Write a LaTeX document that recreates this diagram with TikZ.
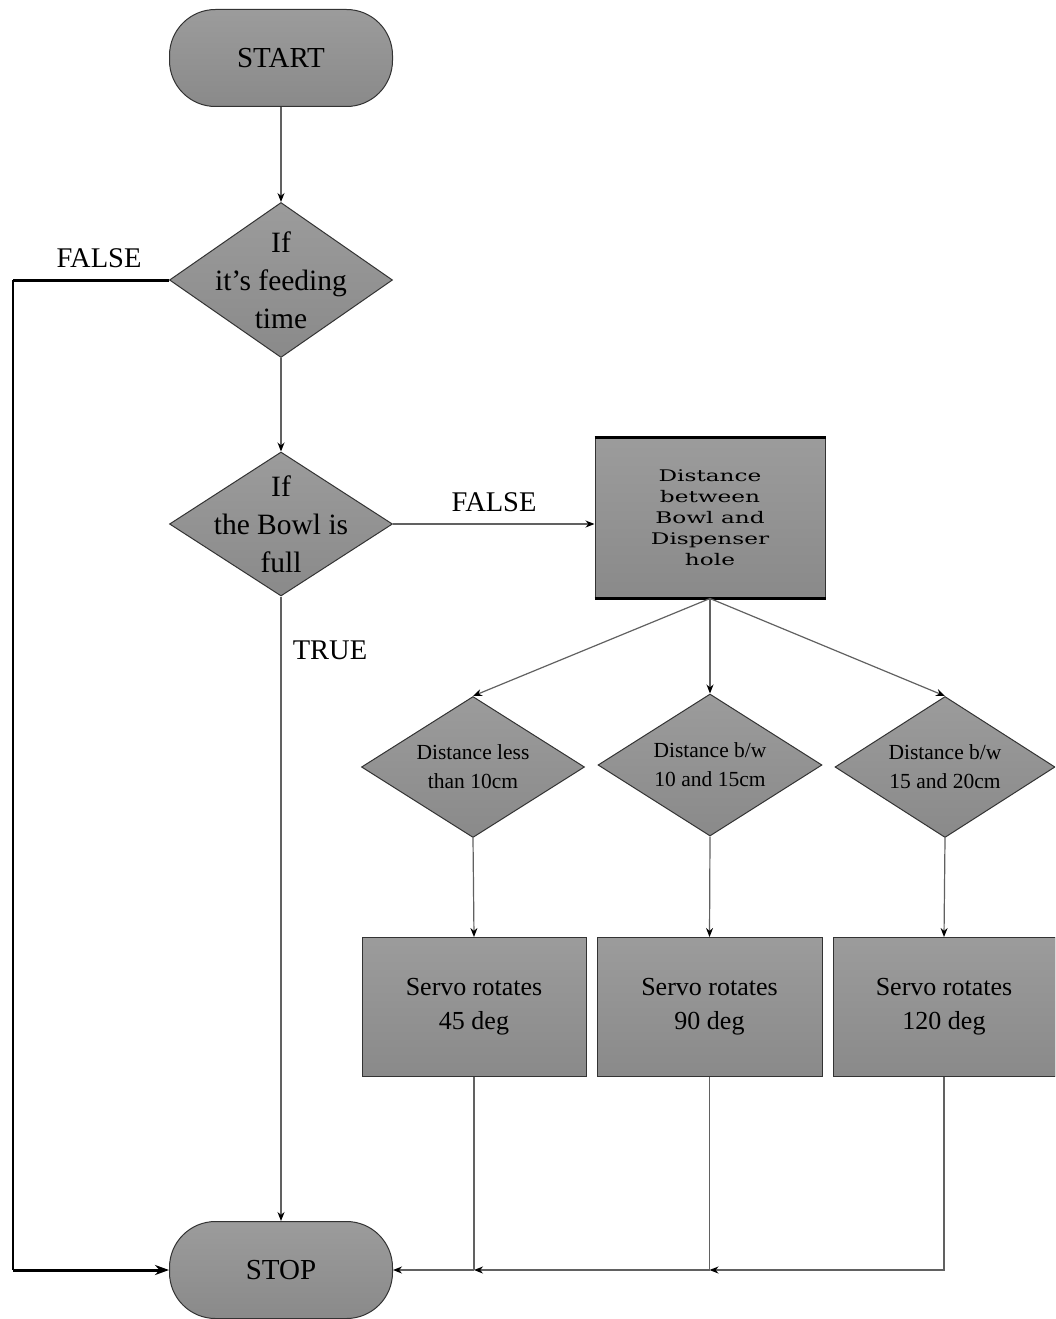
\documentclass[tikz,border=0pt]{standalone}
\usepackage{fontspec}
\setmainfont{Liberation Serif}
\newfontfamily\widefont[FakeStretch=1.45]{DejaVu Serif}
\usetikzlibrary{shapes.geometric,arrows.meta}
\tikzset{
  gfill/.style={top color=black!39, bottom color=black!46, draw=black!80, line width=1pt},
  term/.style={gfill, rectangle, rounded corners=46pt, minimum width=223pt, minimum height=97pt, inner sep=0pt, font=\fontsize{29}{34}\selectfont},
  dia/.style={gfill, diamond, inner sep=0pt},
  boxn/.style={gfill, rectangle, inner sep=0pt, align=center},
  conn/.style={draw=black!62, line width=1.2pt},
  arr/.style={conn, -{Stealth[length=9pt,width=7pt,color=black]}},
  lbl/.style={font=\fontsize{28.5}{34}\selectfont, inner sep=0pt},
  bigtext/.style={align=center, font=\fontsize{29.5}{38}\selectfont, inner sep=0pt},
  smalltext/.style={align=center, font=\fontsize{21.5}{29}\selectfont, inner sep=0pt},
}
\begin{document}
\begin{tikzpicture}[x=1pt,y=-1pt]
\useasboundingbox (0,0) rectangle (1055,1319);
\fill[white] (0,0) rectangle (1055,1319);
\begin{scope}
\clip (0,0) rectangle (1055,1319);
% terminals
\node[term] (start) at (281,58) {START};
\node[term] (stop) at (281,1270) {STOP};
% decisions
\node[dia, minimum width=223pt, minimum height=155pt,
  label={[bigtext]center:{If\\it’s feeding\\time}}] (d1) at (281,280) {};
\node[dia, minimum width=223pt, minimum height=144pt,
  label={[bigtext]center:{If\\the Bowl is\\full}}] (d2) at (281,524) {};
% distance box
\node[boxn, minimum width=230pt, minimum height=160pt,
  font=\widefont\fontsize{16}{21}\selectfont] (dist) at (710,518)
  {Distance\\between\\Bowl and\\Dispenser\\hole};
\draw[line width=3pt] (dist.north west) -- (dist.north east);
\draw[line width=3pt] (dist.south west) -- (dist.south east);
% three decisions
\node[dia, minimum width=223pt, minimum height=141pt,
  label={[smalltext]center:{Distance less\\than 10cm}}] (d3) at (473,767) {};
\node[dia, minimum width=224pt, minimum height=142pt,
  label={[smalltext]center:{Distance b/w\\10 and 15cm}}] (d4) at (710,765) {};
\node[dia, minimum width=220pt, minimum height=141pt,
  label={[smalltext]center:{Distance b/w\\15 and 20cm}}] (d5) at (945,767) {};
% servo boxes
\node[boxn, minimum width=224pt, minimum height=139pt, font=\fontsize{26}{34}\selectfont] (s1) at (474,1007) {Servo rotates\\45 deg};
\node[boxn, minimum width=225pt, minimum height=139pt, font=\fontsize{26}{34}\selectfont] (s2) at (709.5,1007) {Servo rotates\\90 deg};
\node[boxn, minimum width=222pt, minimum height=139pt, font=\fontsize{26}{34}\selectfont] (s3) at (944,1007) {Servo rotates\\120 deg};
% labels
\node[lbl] (f1) at (99,258) {FALSE};
\node[lbl] (f2) at (494,502) {FALSE};
\node[lbl] (t1) at (330,650) {TRUE};
% connectors
\draw[arr] (start.south) -- (d1.north);
\draw[arr] (d1.south) -- (d2.north);
\draw[arr] (d2.east) -- (d2.east -| dist.west);
\draw[arr] (d2.south) -- (stop.north);
\draw[arr] (dist.south) -- (d3.north);
\draw[arr] (dist.south) -- (d4.north);
\draw[arr] (dist.south) -- (d5.north);
\draw[arr] (d3.south) -- (s1.north);
\draw[arr] (d4.south) -- (s2.north);
\draw[arr] (d5.south) -- (s3.north);
% FALSE loop on left
\coordinate (lx) at (13,0);
\coordinate (fl) at (lx |- d1.west);
\coordinate (fb) at (lx |- stop.west);
\draw[line width=3pt, black] (d1.west) -- (fl);
\draw[line width=1.6pt, black] (fl) -- (fb);
\draw[line width=3pt, black, -{Stealth[length=14pt,width=10pt]}] (fb) -- (stop.west);
% merge at bottom
\coordinate (j1) at (s1.south |- stop.east);
\coordinate (j2) at (s2.south |- stop.east);
\draw[arr] (s3.south) |- (j2);
\draw[conn] (s2.south) -- (j2);
\draw[arr] (j2) -- (j1);
\draw[conn] (s1.south) -- (j1);
\draw[arr] (j1) -- (stop.east);
\end{scope}
\end{tikzpicture}
\end{document}
